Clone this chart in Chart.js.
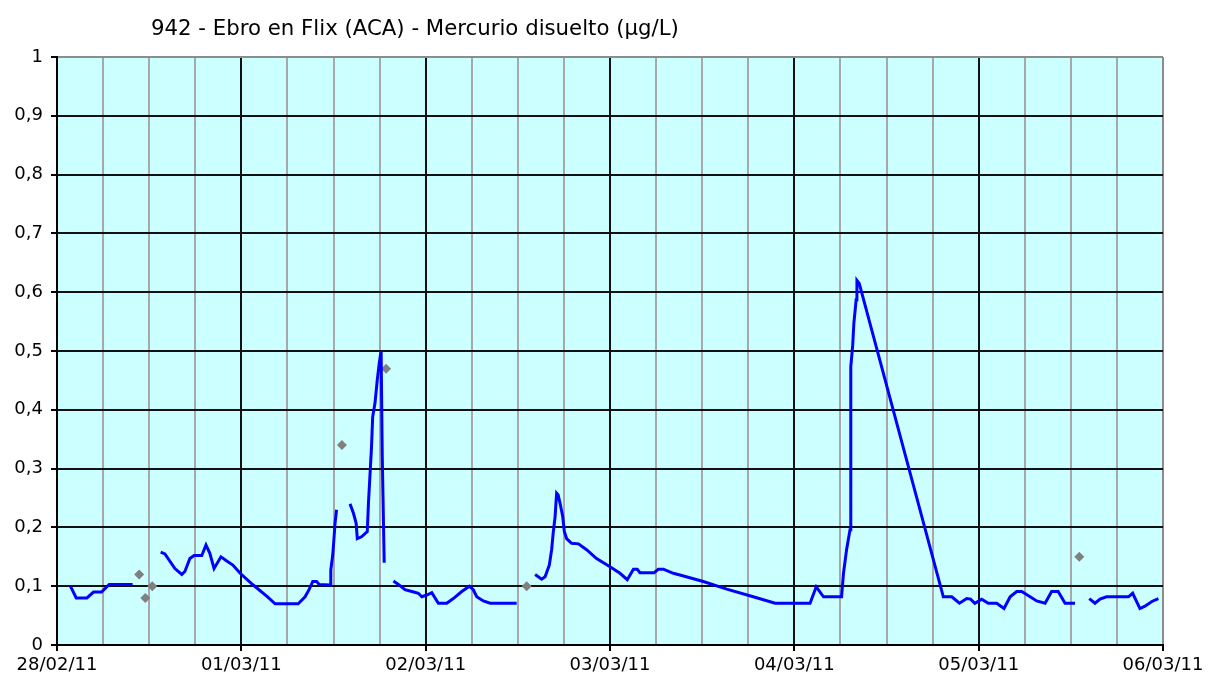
<!DOCTYPE html>
<html>
<head>
<meta charset="utf-8">
<script src="https://cdn.jsdelivr.net/npm/chart.js@4.4.0/dist/chart.umd.min.js"></script>
<style>
html, body { margin: 0; padding: 0; background: #fff; }
#wrap { width: 1208px; height: 679px; position: relative; }
</style>
</head>
<body>
<div id="wrap"><canvas id="chart"></canvas></div>
<script>
const chartTitle = "942 - Ebro en Flix (ACA) - Mercurio disuelto (µg/L)"
const dayLabels = ["28/02/11", "01/03/11", "02/03/11", "03/03/11", "04/03/11", "05/03/11", "06/03/11"]

// hours since 28/02/11 00:00 ; null value = gap in the record
const hours = [
  1.75, 2.5, 3.9, 4.75, 5.8, 6.8, 9.85,
  11,
  13.5, 14.05, 15.35, 16.25, 16.65, 17.3, 17.85, 18.85, 19.4, 19.9, 20.45, 21.35, 22.1, 22.9, 23.85,
  25.55, 27.3, 28.4, 31.4, 32.3, 32.85, 33.3, 33.8, 34.15, 35.55, 35.65, 35.9, 36.05, 36.2, 36.4,
  37.3,
  38.15, 38.6, 38.95, 39.1, 39.65, 40.4, 40.55, 40.75, 40.95, 41.1, 41.4, 41.7, 41.95, 42.2, 42.35, 42.6,
  43.2,
  43.8, 44.45, 45.3, 46.2, 47.05, 47.5, 48.15, 48.8, 49.65, 50.75, 51.6, 52.7, 53.7, 54.2, 54.65,
  55.5, 56.4, 59.85,
  61,
  62.25, 63.1, 63.55, 64.1, 64.4, 64.6, 64.85, 65.05, 65.25, 65.5, 65.85, 66.05, 66.35, 67.0, 67.9,
  68.95, 70.25, 72.0, 73.3, 74.25, 75.05, 75.55, 75.9, 77.75, 78.3, 78.95, 80.25, 81.1, 84.15, 87.2,
  90.65, 93.5, 98.05, 98.85, 99.8, 102.15, 102.4, 102.8, 103.25, 103.35, 103.6, 103.75, 104.05, 104.15,
  104.45, 115.4, 116.5, 117.5, 118.45, 118.95, 119.5, 120.4, 121.25, 122.35, 123.3, 124.1, 124.95,
  125.6, 126.7, 127.55, 128.65, 129.5, 130.35, 131.25, 132.55,
  133.5,
  134.4, 135.15, 135.8, 136.65, 139.5, 140.05, 141.0, 141.65, 142.55, 143.4
]
const mercury = [
  0.10, 0.08, 0.08, 0.09, 0.09, 0.103, 0.103,
  null,
  0.158, 0.155, 0.13, 0.12, 0.125, 0.147, 0.152, 0.152, 0.17, 0.156, 0.13, 0.15, 0.143, 0.136, 0.122,
  0.102, 0.083, 0.07, 0.07, 0.082, 0.095, 0.108, 0.108, 0.103, 0.102, 0.128, 0.153, 0.179, 0.207, 0.23,
  null,
  0.24, 0.224, 0.207, 0.181, 0.184, 0.193, 0.241, 0.289, 0.337, 0.388, 0.411, 0.451, 0.479, 0.50, 0.32, 0.14,
  null,
  0.109, 0.103, 0.094, 0.091, 0.088, 0.082, 0.085, 0.089, 0.071, 0.071, 0.079, 0.091, 0.10, 0.094, 0.082,
  0.075, 0.071, 0.071,
  null,
  0.12, 0.112, 0.116, 0.136, 0.162, 0.19, 0.218, 0.258, 0.255, 0.241, 0.218, 0.193, 0.181, 0.173, 0.172,
  0.162, 0.147, 0.133, 0.122, 0.111, 0.129, 0.129, 0.123, 0.123, 0.129, 0.129, 0.122, 0.119, 0.108, 0.095,
  0.082, 0.071, 0.071, 0.099, 0.082, 0.082, 0.122, 0.162, 0.196, 0.473, 0.51, 0.547, 0.587, 0.62,
  0.615, 0.082, 0.082, 0.071, 0.079, 0.078, 0.071, 0.078, 0.071, 0.071, 0.062, 0.082, 0.091,
  0.091, 0.082, 0.075, 0.071, 0.091, 0.091, 0.071, 0.071,
  null,
  0.079, 0.071, 0.078, 0.082, 0.082, 0.088, 0.062, 0.066, 0.074, 0.079
]

// isolated grey points
const labHours = [10.7, 11.5, 12.4, 37.1, 42.85, 61.15, 133.1]
const labValues = [0.12, 0.08, 0.10, 0.34, 0.47, 0.10, 0.15]

const fontFam = '"DejaVu Sans", Verdana, sans-serif'

const plotBg = {
  id: "plotBg",
  beforeDraw(chart) {
    const a = chart.chartArea
    const ctx = chart.ctx
    ctx.save()
    ctx.fillStyle = "#ccffff"
    ctx.fillRect(a.left, a.top, a.right - a.left, a.bottom - a.top)
    ctx.restore()
  }
}

const titleText = {
  id: "titleText",
  afterDraw(chart) {
    const ctx = chart.ctx
    ctx.save()
    ctx.font = "20px " + fontFam
    const w = ctx.measureText(chartTitle).width
    const size = 20 * 528 / w
    ctx.font = size.toFixed(2) + "px " + fontFam
    ctx.fillStyle = "#000"
    ctx.textBaseline = "alphabetic"
    ctx.fillText(chartTitle, 151, 35)
    ctx.restore()
  }
}

const isDay = v => Math.abs(v % 24) < 1e-6

new Chart(document.getElementById("chart"), {
  type: "line",
  data: {
    datasets: [
      {
        data: hours.map((h, i) => ({ x: h, y: mercury[i] })),
        borderColor: "#0000ff",
        borderWidth: 3,
        pointRadius: 0,
        tension: 0,
        spanGaps: false,
        order: 1
      },
      {
        type: "scatter",
        data: labHours.map((h, i) => ({ x: h, y: labValues[i] })),
        pointStyle: "rectRot",
        pointRadius: 5,
        backgroundColor: "#808080",
        borderWidth: 0,
        order: 2
      }
    ]
  },
  options: {
    responsive: true,
    maintainAspectRatio: false,
    animation: false,
    layout: { padding: { top: 57, right: 45, left: 0, bottom: 0 } },
    plugins: {
      legend: { display: false },
      title: { display: false },
      tooltip: { enabled: false }
    },
    scales: {
      x: {
        type: "linear",
        min: 0,
        max: 144,
        afterFit(scale) { scale.height = 34 },
        ticks: {
          stepSize: 6,
          autoSkip: false,
          maxRotation: 0,
          padding: 4,
          color: "#000",
          font: { family: fontFam, size: 18 },
          callback: v => isDay(v) ? dayLabels[v / 24] : ""
        },
        grid: {
          color: c => {
            const v = c.tick.value
            if (v >= 144) return "#8c8c8c"
            return isDay(v) ? "#111" : "#a8a8a8"
          },
          lineWidth: 2,
          tickLength: 6,
          tickColor: c => isDay(c.tick.value) ? "#000" : "rgba(0,0,0,0)"
        },
        border: { color: "#000", width: 2 }
      },
      y: {
        min: 0,
        max: 1,
        afterFit(scale) { scale.width = 57 },
        ticks: {
          stepSize: 0.1,
          padding: 8,
          color: "#000",
          font: { family: fontFam, size: 18 },
          callback: v => {
            const r = Math.round(v * 10) / 10
            return r === 0 || r === 1 ? String(r) : r.toFixed(1).replace(".", ",")
          }
        },
        grid: {
          color: c => c.tick.value >= 0.999 ? "#8c8c8c" : "#111",
          lineWidth: 2,
          tickLength: 6,
          tickColor: "#000"
        },
        border: { color: "#000", width: 2 }
      }
    }
  },
  plugins: [plotBg, titleText]
})
</script>
</body>
</html>
